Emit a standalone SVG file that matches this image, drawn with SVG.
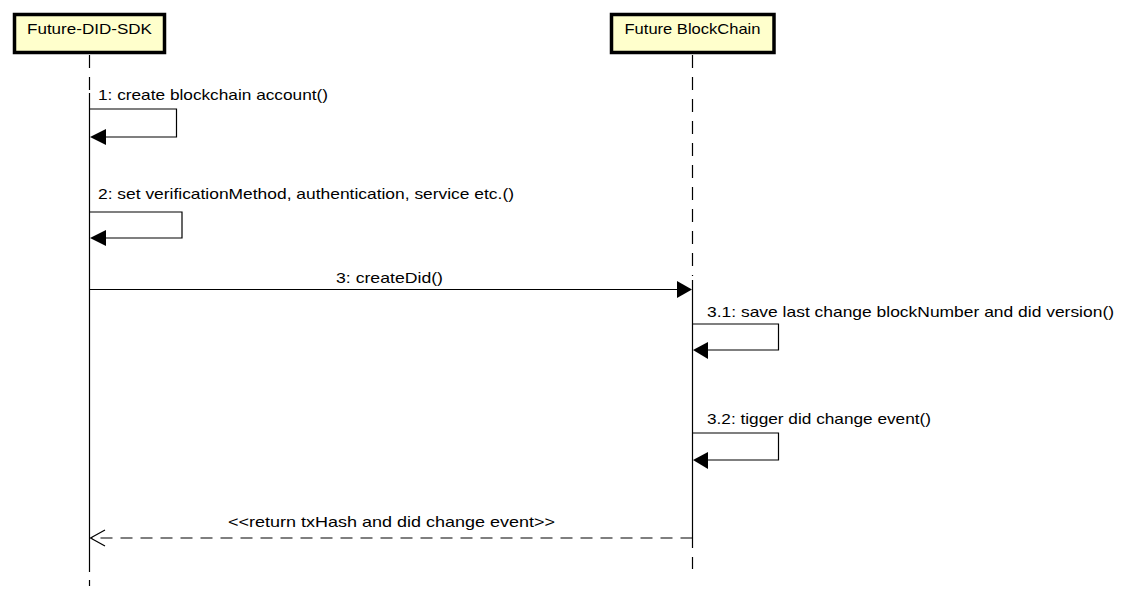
<svg xmlns="http://www.w3.org/2000/svg" width="1130" height="598" viewBox="0 0 1130 598">
<style>
.box{fill:#FFFFCC;stroke:#000;stroke-width:3.5}
.t{font-family:"Lucida Grande","Liberation Sans",Arial,sans-serif;font-size:15px;fill:#000}
.ll{stroke:#000;stroke-width:1.2;fill:none}
.dash{stroke-dasharray:13 9}
.msg{stroke:#000;stroke-width:1.2;fill:none}
.ret{stroke:#000;stroke-width:1.2;fill:none;stroke-dasharray:12 8}
</style>
<rect width="1130" height="598" fill="#fff"/>
<g id="node-sdk">
<rect class="box" x="14.5" y="14.5" width="150" height="38"/>
<text class="t" x="89.5" y="34" text-anchor="middle" textLength="125" lengthAdjust="spacingAndGlyphs">Future-DID-SDK</text>
</g>
<g id="node-chain">
<rect class="box" x="611.5" y="14.5" width="162.5" height="38"/>
<text class="t" x="692.5" y="34" text-anchor="middle" textLength="136" lengthAdjust="spacingAndGlyphs">Future BlockChain</text>
</g>
<g id="lifelines">
<line class="ll dash" x1="89.5" y1="55" x2="89.5" y2="93"/>
<line class="ll" x1="89.5" y1="93" x2="89.5" y2="572"/>
<line class="ll" x1="89.5" y1="580" x2="89.5" y2="586"/>
<line class="ll dash" x1="692.5" y1="55" x2="692.5" y2="276"/>
<line class="ll" x1="692.5" y1="280" x2="692.5" y2="548"/>
<line class="ll" x1="692.5" y1="557" x2="692.5" y2="569"/>
</g>
<g id="connectors">
<polyline class="msg" points="89.5,109 176.5,109 176.5,137 92,137"/>
<polygon points="90,137 106,129 106,145"/>
<polyline class="msg" points="89.5,212 182,212 182,238 92,238"/>
<polygon points="90,238 106,230 106,246"/>
<line class="msg" x1="89.5" y1="289.5" x2="678" y2="289.5"/>
<polygon points="692,289.5 677,281 677,298"/>
<polyline class="msg" points="692.5,324 778.5,324 778.5,350 695,350"/>
<polygon points="693,350 708,342 708,359"/>
<polyline class="msg" points="692.5,433 778.5,433 778.5,460 695,460"/>
<polygon points="693,460 708,452 708,469"/>
<line class="ret" x1="692.5" y1="538" x2="91" y2="538"/>
<polyline class="msg" points="105,530 90.5,538 105,546"/>
</g>
<g id="labels">
<text class="t" x="98" y="100" textLength="230" lengthAdjust="spacingAndGlyphs">1: create blockchain account()</text>
<text class="t" x="98" y="199" textLength="416" lengthAdjust="spacingAndGlyphs">2: set verificationMethod, authentication, service etc.()</text>
<text class="t" x="336" y="283" textLength="107" lengthAdjust="spacingAndGlyphs">3: createDid()</text>
<text class="t" x="707" y="317" textLength="407" lengthAdjust="spacingAndGlyphs">3.1: save last change blockNumber and did version()</text>
<text class="t" x="707" y="424" textLength="224" lengthAdjust="spacingAndGlyphs">3.2: tigger did change event()</text>
<text class="t" x="228" y="527" textLength="327" lengthAdjust="spacingAndGlyphs">&lt;&lt;return txHash and did change event&gt;&gt;</text>
</g>
</svg>
